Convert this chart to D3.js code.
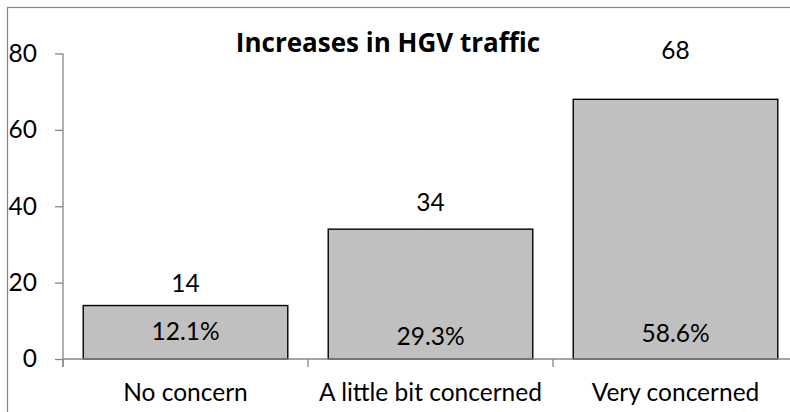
<!DOCTYPE html>
<html>
<head>
<meta charset="utf-8">
<script src="https://cdn.jsdelivr.net/npm/d3@7"></script>
<style>
  html, body { margin: 0; padding: 0; background: #fff; }
  svg { display: block; }
  text { font-family: Lato, "Open Sans", sans-serif; fill: #000; }
</style>
</head>
<body>
<svg id="chart" width="790" height="412"></svg>
<script>
// Survey responses: concern about increases in HGV traffic
const categories = ["No concern", "A little bit concerned", "Very concerned"];
const counts = [14, 34, 68];
const percentLabels = ["12.1%", "29.3%", "58.6%"];
const yTicks = [0, 20, 40, 60, 80];
const title = "Increases in HGV traffic";

const svg = d3.select("#chart");
const W = 790, H = 412;
const FONT = "Lato, 'Open Sans', sans-serif";
const FS = "24.5px";

// outer chart frame
svg.append("rect")
  .attr("x", 7.5).attr("y", 7.5)
  .attr("width", W + 20).attr("height", H + 20)
  .attr("fill", "#fff").attr("stroke", "#868686").attr("stroke-width", 1.2);

const plot = { left: 63, right: 798, top: 53.5, bottom: 359 };

const x = d3.scaleBand()
  .domain(categories)
  .range([plot.left, plot.right])
  .paddingInner(0.165)
  .paddingOuter(0.0825);

const y = d3.scaleLinear()
  .domain([0, 80])
  .range([plot.bottom, plot.top]);

// bars
svg.append("g").selectAll("rect")
  .data(categories)
  .join("rect")
  .attr("x", d => x(d))
  .attr("y", (d, i) => y(counts[i]))
  .attr("width", x.bandwidth())
  .attr("height", (d, i) => y(0) - y(counts[i]))
  .attr("fill", "#c0c0c0")
  .attr("stroke", "#000")
  .attr("stroke-width", 1.4);

// y axis
const yAxis = svg.append("g")
  .attr("transform", `translate(${plot.left},0)`)
  .call(d3.axisLeft(y).tickValues(yTicks).tickSize(8).tickPadding(18).tickSizeOuter(0));
yAxis.select(".domain").remove();
yAxis.append("line")
  .attr("x1", 0).attr("x2", 0)
  .attr("y1", plot.top).attr("y2", plot.bottom + 8);
yAxis.selectAll("line").attr("stroke", "#868686").attr("stroke-width", 1.3);
yAxis.selectAll("text")
  .style("font-size", FS).attr("fill", "#000")
  .style("font-family", FONT);

// x axis: baseline plus tick marks at category boundaries
const xAxis = svg.append("g");
xAxis.append("line")
  .attr("x1", plot.left).attr("x2", plot.right)
  .attr("y1", y(0)).attr("y2", y(0))
  .attr("stroke", "#868686").attr("stroke-width", 1.3);
const step = x.step();
xAxis.selectAll("line.bound")
  .data(d3.range(categories.length + 1))
  .join("line")
  .attr("class", "bound")
  .attr("x1", i => plot.left + i * step).attr("x2", i => plot.left + i * step)
  .attr("y1", y(0)).attr("y2", y(0) + 8)
  .attr("stroke", "#868686").attr("stroke-width", 1.3);
xAxis.selectAll("text")
  .data(categories)
  .join("text")
  .attr("x", d => x(d) + x.bandwidth() / 2)
  .attr("y", y(0) + 42)
  .attr("text-anchor", "middle")
  .style("font-size", FS)
  .text(d => d);

// count labels above bars
const valueLift = [14, 18, 40];
svg.append("g").selectAll("text")
  .data(categories)
  .join("text")
  .attr("x", d => x(d) + x.bandwidth() / 2)
  .attr("y", (d, i) => y(counts[i]) - valueLift[i])
  .attr("text-anchor", "middle")
  .style("font-size", FS)
  .text((d, i) => counts[i]);

// share labels inside bars
const shareDrop = [19, 14, 17];
svg.append("g").selectAll("text")
  .data(categories)
  .join("text")
  .attr("x", d => x(d) + x.bandwidth() / 2)
  .attr("y", (d, i) => y(0) - shareDrop[i])
  .attr("text-anchor", "middle")
  .style("font-size", FS)
  .text((d, i) => percentLabels[i]);

// title
svg.append("text")
  .attr("x", 388)
  .attr("y", 52)
  .attr("text-anchor", "middle")
  .style("font-family", "'Open Sans', Lato, sans-serif")
  .style("font-size", "26px")
  .style("font-weight", "bold")
  .text(title);
</script>
</body>
</html>
